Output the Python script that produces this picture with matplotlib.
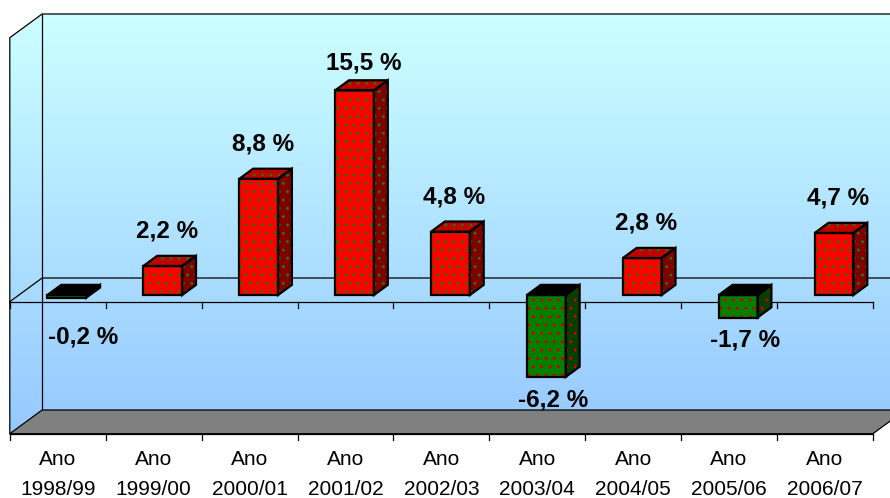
import numpy as np
import matplotlib.pyplot as plt
from matplotlib.patches import Polygon

plt.rcParams['font.family'] = ['Liberation Sans', 'DejaVu Sans']
plt.rcParams['hatch.linewidth'] = 1.0

years = ['1998/99', '1999/00', '2000/01', '2001/02', '2002/03',
         '2003/04', '2004/05', '2005/06', '2006/07']
growth = [-0.2, 2.2, 8.8, 15.5, 4.8, -6.2, 2.8, -1.7, 4.7]
y_min, y_max = -10, 20

# pixel geometry of the front plane (Excel 3D look)
px_cat = 95.9      # px per category
px_val = 13.2      # px per percent
x0_px = 9.8        # left of front plane
y0_px = 433.7      # y of -10 at front (from top)
W, H = 890, 498

dX = 32.3 / px_cat   # depth offset in data units
dY = 23.7 / px_val
f1, f2 = 0.28, 0.71  # bar depth span
bw = 0.405           # bar width

# label nudges (points), like a hand-moved label in the original
nudge = {0: (6.5, -12), 3: (4, -5)}

fig = plt.figure(figsize=(W / 100, H / 100), dpi=100)
ax = fig.add_axes([0, 0, 1, 1])
ax.set_xlim(-x0_px / px_cat, (W - x0_px) / px_cat)
ax.set_ylim(y_min - (H - y0_px) / px_val, y_max + (y0_px - (y_max - y_min) * px_val) / px_val)
ax.axis('off')

n = len(years)

# walls with gradient
walls = Polygon([(0, y_min), (0, y_max), (dX, y_max + dY), (n + dX, y_max + dY),
                 (n + dX, y_min + dY), (dX, y_min + dY)], closed=True,
                transform=ax.transData, facecolor='none', edgecolor='none')
top_c = np.array([204, 255, 255]) / 255
bot_c = np.array([150, 200, 255]) / 255
t = np.linspace(0, 1, 256)[:, None]
grad = (top_c[None, :] * (1 - t) + bot_c[None, :] * t)[:, None, :]
im = ax.imshow(grad, extent=[0, n + dX, y_min, y_max + dY], aspect='auto',
               origin='upper', zorder=0, interpolation='bilinear')
im.set_clip_path(walls)

lw_wall = 0.9
# wall outlines
ax.plot([0, 0, dX, n + dX + 1], [y_min, y_max, y_max + dY, y_max + dY], color='black', lw=lw_wall, zorder=1)
ax.plot([dX, dX], [y_max + dY, y_min + dY], color='black', lw=lw_wall, zorder=1)
# zero gridline on walls
ax.plot([0, dX, n + dX + 1], [0, dY, dY], color='black', lw=lw_wall, zorder=1)

# floor
floor = Polygon([(0, y_min), (n, y_min), (n + dX, y_min + dY), (dX, y_min + dY)], closed=True,
                facecolor='#808080', edgecolor='black', lw=lw_wall, zorder=2)
ax.add_patch(floor)

# front axis lines with ticks
tick_v = 6 / px_val
ax.plot([0, n], [0, 0], color='black', lw=lw_wall, zorder=2)
ax.plot([0, n], [y_min, y_min], color='black', lw=lw_wall, zorder=2)
for i in range(n + 1):
    ax.plot([i, i], [0, -tick_v], color='black', lw=lw_wall, zorder=2)
    ax.plot([i, i], [y_min, y_min - 1.1 * tick_v], color='black', lw=lw_wall, zorder=2)


def face(pts, fc, dot, z):
    if dot is not None:
        ax.add_patch(Polygon(pts, closed=True, facecolor=fc, edgecolor=dot, lw=0, hatch='..', zorder=z))
    else:
        ax.add_patch(Polygon(pts, closed=True, facecolor=fc, lw=0, zorder=z))
    ax.add_patch(Polygon(pts, closed=True, fill=False, edgecolor='black', lw=1.6,
                         joinstyle='miter', zorder=z + 0.1))


for i, v in enumerate(growth):
    cx = i + 0.5
    xl = cx - bw / 2 + f1 * dX
    xr = cx + bw / 2 + f1 * dX
    yb = f1 * dY
    yt = v + f1 * dY
    ddx = (f2 - f1) * dX
    ddy = (f2 - f1) * dY
    if v >= 0:
        front_c, top_col, side_c, dot = '#ff0000', '#c00000', '#800000', '#3a6b00'
        top_dot = dot
        lo, hi = yb, yt
    else:
        front_c, top_col, side_c, dot = '#008000', '#000000', '#004000', '#d00000'
        top_dot = None
        lo, hi = yt, yb
    z = 3 + i * 0.01
    face([(xl, lo), (xr, lo), (xr, hi), (xl, hi)], front_c, dot, z)
    face([(xr, lo), (xr + ddx, lo + ddy), (xr + ddx, hi + ddy), (xr, hi)], side_c, dot, z)
    face([(xl, hi), (xr, hi), (xr + ddx, hi + ddy), (xl + ddx, hi + ddy)], top_col, top_dot, z)

    lx = cx + f1 * dX
    txt = ('%.1f' % v).replace('.', ',') + ' %'
    nx, ny = nudge.get(i, (0, 0))
    if v >= 0:
        ax.annotate(txt, (lx + 0.3 * ddx, v + f2 * dY), xytext=(nx, 13 + ny), textcoords='offset points',
                    ha='center', va='baseline', fontsize=17.5, fontweight='bold', zorder=5)
    else:
        ax.annotate(txt, (lx + 0.5 * ddx, v + f1 * dY), xytext=(nx, -8 + ny), textcoords='offset points',
                    ha='center', va='top', fontsize=17.5, fontweight='bold', zorder=5)

# category labels
for i, yr in enumerate(years):
    ax.annotate('Ano', (i + 0.5, y_min), xytext=(0, -22.5), textcoords='offset points',
                ha='center', va='baseline', fontsize=15)
    ax.annotate(yr, (i + 0.5, y_min), xytext=(0, -44.1), textcoords='offset points',
                ha='center', va='baseline', fontsize=15)

fig.savefig('out.png', dpi=100)
